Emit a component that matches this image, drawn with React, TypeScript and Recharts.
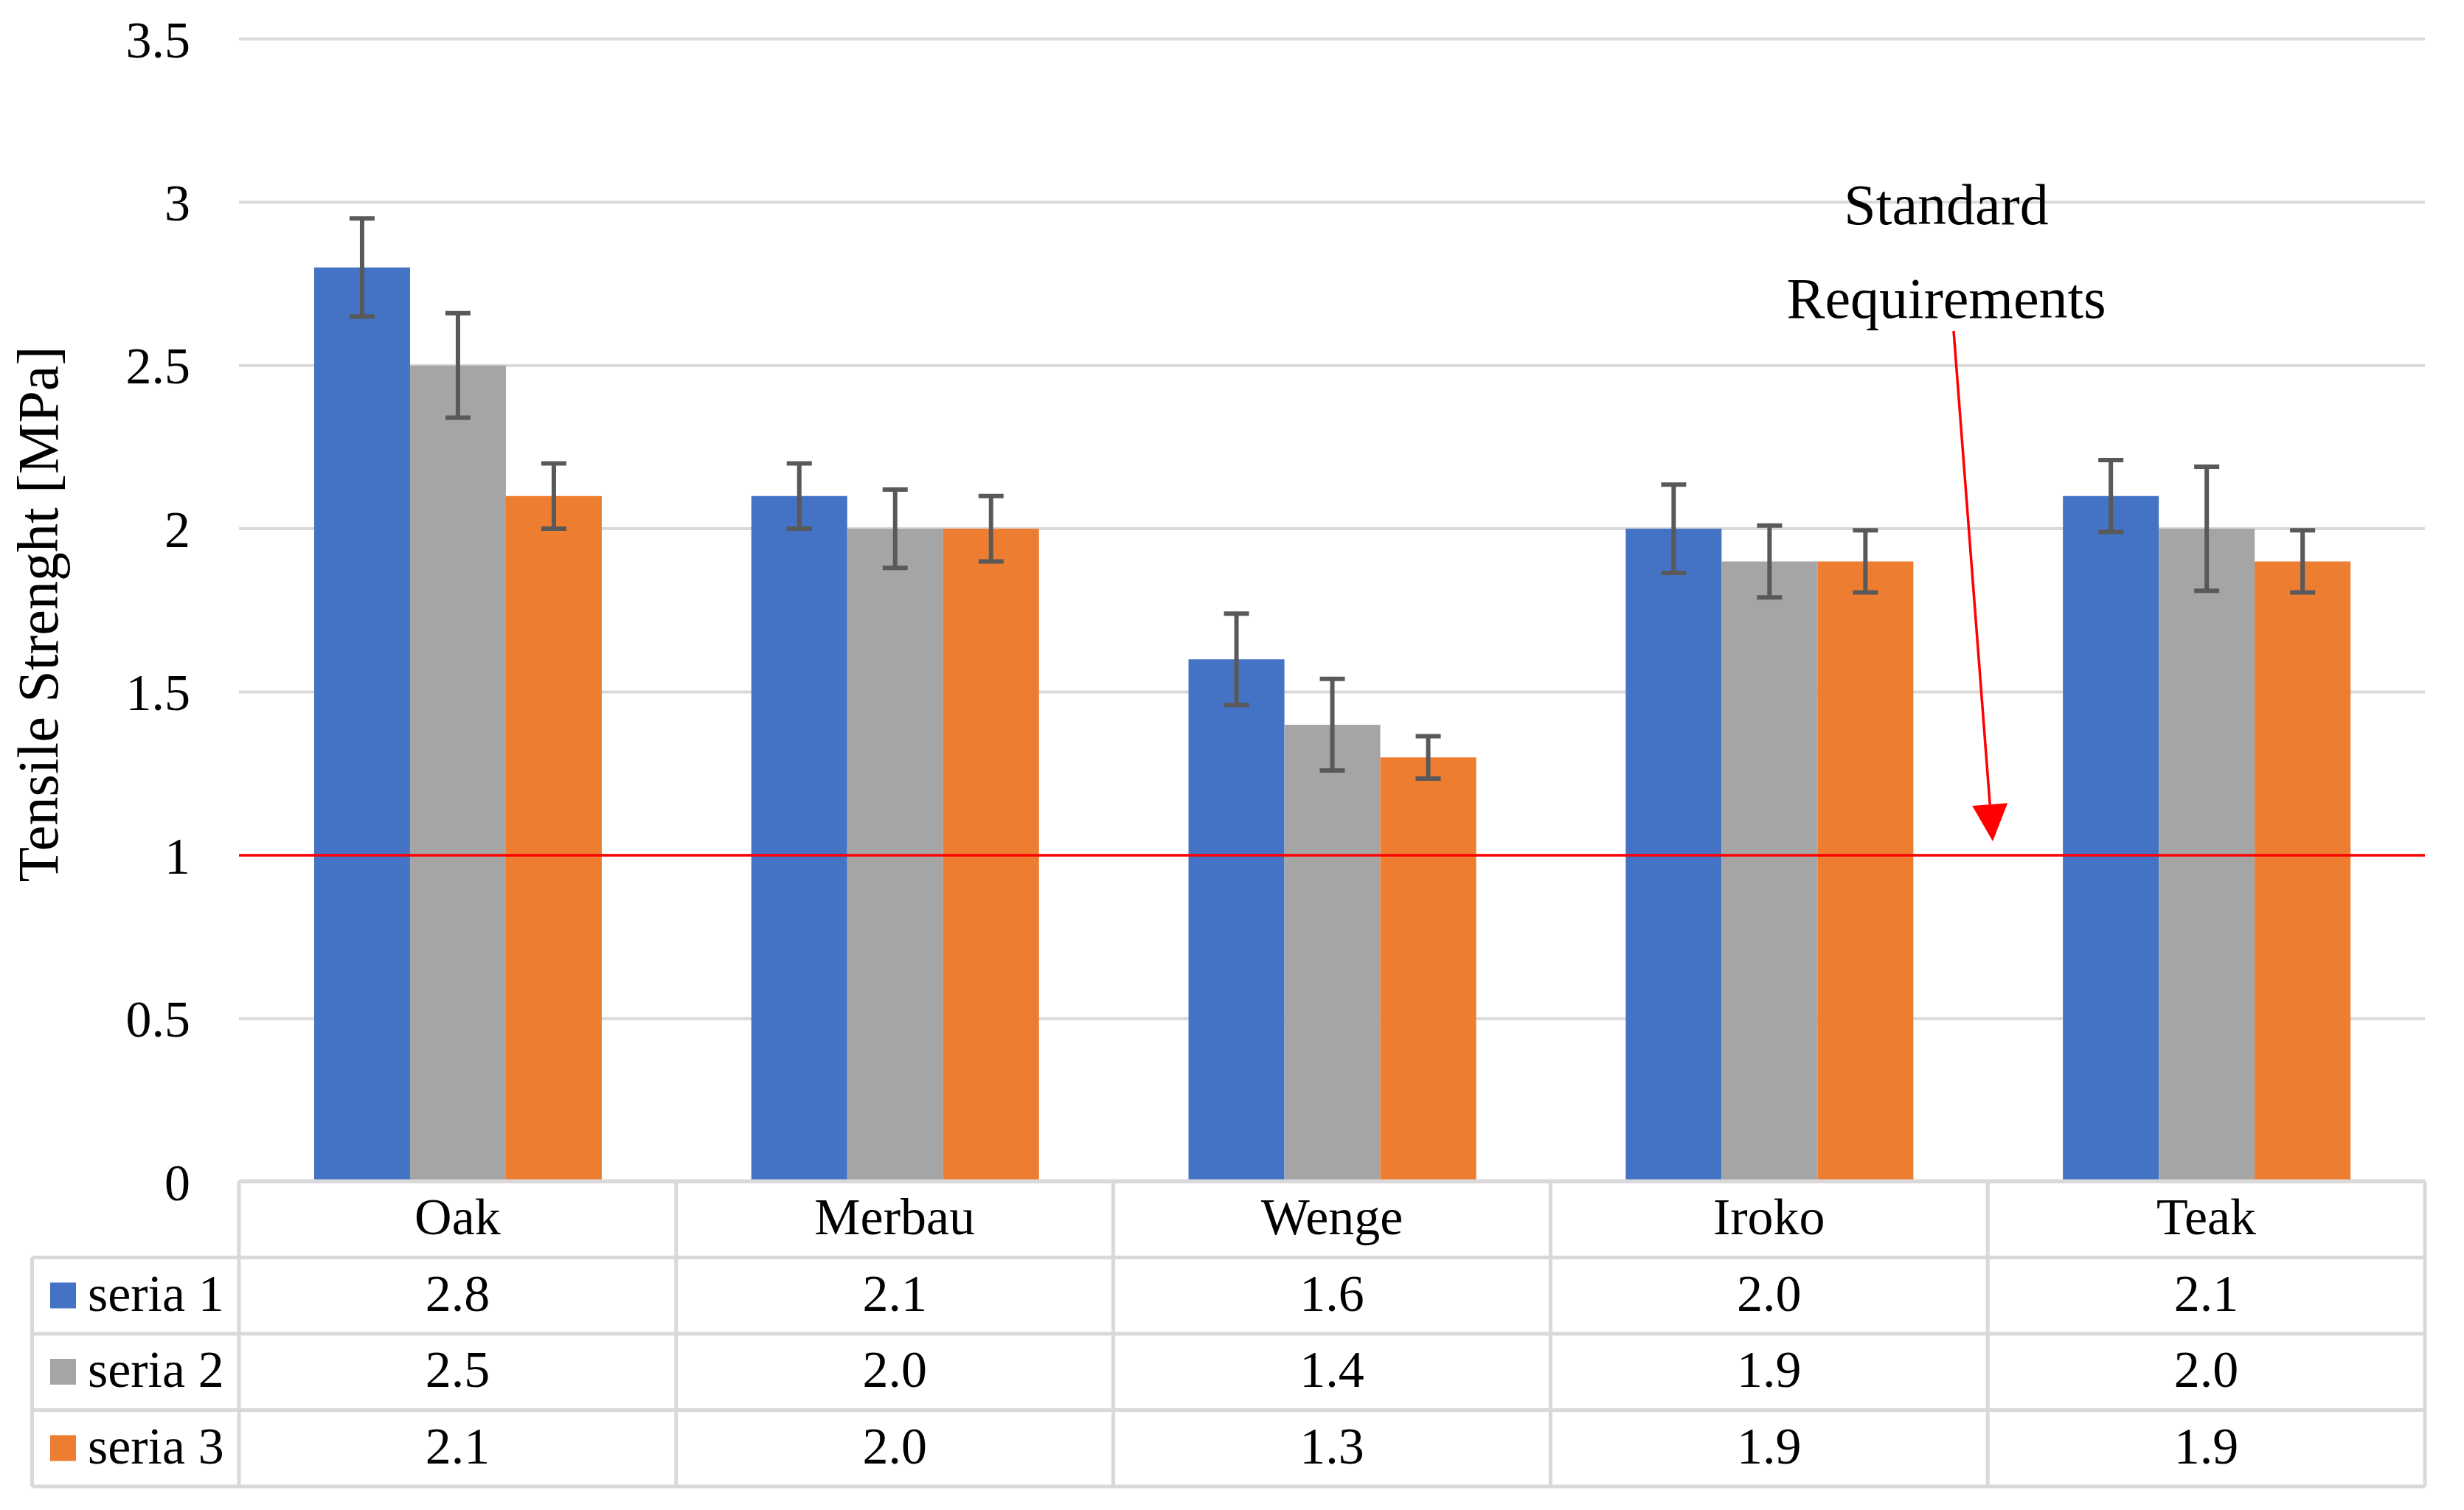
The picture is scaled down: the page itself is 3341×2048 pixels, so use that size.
import { Bar, BarChart, CartesianGrid, ErrorBar, ReferenceLine, XAxis, YAxis } from "recharts";

const categories = ["Oak", "Merbau", "Wenge", "Iroko", "Teak"];
const seriesNames = ["seria 1", "seria 2", "seria 3"];
const seria1 = [2.8, 2.1, 1.6, 2.0, 2.1];
const seria2 = [2.5, 2.0, 1.4, 1.9, 2.0];
const seria3 = [2.1, 2.0, 1.3, 1.9, 1.9];
const err1 = [0.15, 0.1, 0.14, 0.135, 0.11];
const err2 = [0.16, 0.12, 0.14, 0.11, 0.19];
const err3 = [0.1, 0.1, 0.065, 0.095, 0.095];
const yTicks = [0, 0.5, 1, 1.5, 2, 2.5, 3, 3.5];
const standard = 1.0;

const COLORS = ["#4472C4", "#A5A5A5", "#ED7D31"];
const FONT = "'Liberation Serif', 'Times New Roman', serif";

const W = 3341;
const H = 2048;
// plot box
const PL = 324;
const PR = 3288;
const PT = 52.7;
const PB = 1603;
const colW = (PR - PL) / categories.length;
// table rows
const rowTop = 1602;
const rowH = 103.5;
const tableLeft = 43.5;

const data = categories.map((name, i) => ({
  name,
  s1: seria1[i],
  s2: seria2[i],
  s3: seria3[i],
  e1: err1[i],
  e2: err2[i],
  e3: err3[i],
}));

const rows = [seria1, seria2, seria3];

function Table() {
  const border = "#D9D9D9";
  const bw = 5;
  const bottom = rowTop + rowH * 4;
  const lines = [];
  lines.push(<line key="h0" x1={PL} x2={PR} y1={rowTop} y2={rowTop} stroke={border} strokeWidth={bw} />);
  for (let r = 1; r <= 4; r++) {
    const y = rowTop + rowH * r;
    lines.push(<line key={"h" + r} x1={tableLeft} x2={PR} y1={y} y2={y} stroke={border} strokeWidth={bw} />);
  }
  lines.push(<line key="vl" x1={tableLeft} x2={tableLeft} y1={rowTop + rowH} y2={bottom} stroke={border} strokeWidth={bw} />);
  for (let c = 0; c <= categories.length; c++) {
    const x = PL + colW * c;
    lines.push(<line key={"v" + c} x1={x} x2={x} y1={rowTop} y2={bottom} stroke={border} strokeWidth={bw} />);
  }
  return (
    <g fontFamily={FONT} fontSize={70} fill="#000">
      {lines}
      {categories.map((c, i) => (
        <text key={c} x={PL + colW * (i + 0.5)} y={rowTop + 72} textAnchor="middle">
          {c}
        </text>
      ))}
      {rows.map((vals, r) => (
        <g key={r}>
          <rect x={68} y={rowTop + rowH * (r + 1) + 34} width={35} height={35} fill={COLORS[r]} />
          <text x={119} y={rowTop + rowH * (r + 1) + 72}>
            {seriesNames[r]}
          </text>
          {vals.map((v, i) => (
            <text key={i} x={PL + colW * (i + 0.5)} y={rowTop + rowH * (r + 1) + 72} textAnchor="middle">
              {v.toFixed(1)}
            </text>
          ))}
        </g>
      ))}
    </g>
  );
}

function Annotation() {
  const x1 = 2649, y1 = 449, tx = 2702, ty = 1141;
  const headLen = 50, headHalf = 24;
  const ang = Math.atan2(ty - y1, tx - x1);
  const bx = tx - headLen * Math.cos(ang);
  const by = ty - headLen * Math.sin(ang);
  const px = -Math.sin(ang) * headHalf;
  const py = Math.cos(ang) * headHalf;
  return (
    <g>
      <text x={2639} y={304} textAnchor="middle" fontFamily={FONT} fontSize={78}>Standard</text>
      <text x={2639} y={431} textAnchor="middle" fontFamily={FONT} fontSize={78}>Requirements</text>
      <line x1={x1} y1={y1} x2={bx} y2={by} stroke="#FF0000" strokeWidth={3.5} />
      <polygon points={`${tx},${ty} ${bx + px},${by + py} ${bx - px},${by - py}`} fill="#FF0000" />
    </g>
  );
}

export default function App() {
  return (
    <div style={{ position: "absolute", left: 0, top: 0, width: W, height: H, background: "#fff" }}>
      <BarChart
        width={W}
        height={H}
        data={data}
        margin={{ top: PT, right: W - PR, bottom: H - PB, left: PL - 250 }}
        barCategoryGap="17.2%"
        barGap={0}
      >
        <CartesianGrid vertical={false} stroke="#D9D9D9" strokeWidth={4} />
        <XAxis dataKey="name" hide />
        <YAxis
          width={250}
          domain={[0, 3.5]}
          ticks={yTicks}
          axisLine={false}
          tickLine={false}
          tickSize={6}
          tickMargin={60}
          tick={{ fill: "#000", fontSize: 70, fontFamily: FONT }}
        />
        <Bar dataKey="s1" name={seriesNames[0]} fill={COLORS[0]} isAnimationActive={false}>
          <ErrorBar dataKey="e1" direction="y" width={17} strokeWidth={6} stroke="#595959" isAnimationActive={false} />
        </Bar>
        <Bar dataKey="s2" name={seriesNames[1]} fill={COLORS[1]} isAnimationActive={false}>
          <ErrorBar dataKey="e2" direction="y" width={17} strokeWidth={6} stroke="#595959" isAnimationActive={false} />
        </Bar>
        <Bar dataKey="s3" name={seriesNames[2]} fill={COLORS[2]} isAnimationActive={false}>
          <ErrorBar dataKey="e3" direction="y" width={17} strokeWidth={6} stroke="#595959" isAnimationActive={false} />
        </Bar>
        <ReferenceLine y={standard} stroke="#FF0000" strokeWidth={3.5} />
      </BarChart>
      <svg width={W} height={H} style={{ position: "absolute", left: 0, top: 0, pointerEvents: "none" }}>
        <text
          transform={`translate(78, 833) rotate(-90)`}
          textAnchor="middle"
          fontFamily={FONT}
          fontSize={78}
          fill="#000"
        >
          Tensile Strenght [MPa]
        </text>
        <Table />
        <Annotation />
      </svg>
    </div>
  );
}
